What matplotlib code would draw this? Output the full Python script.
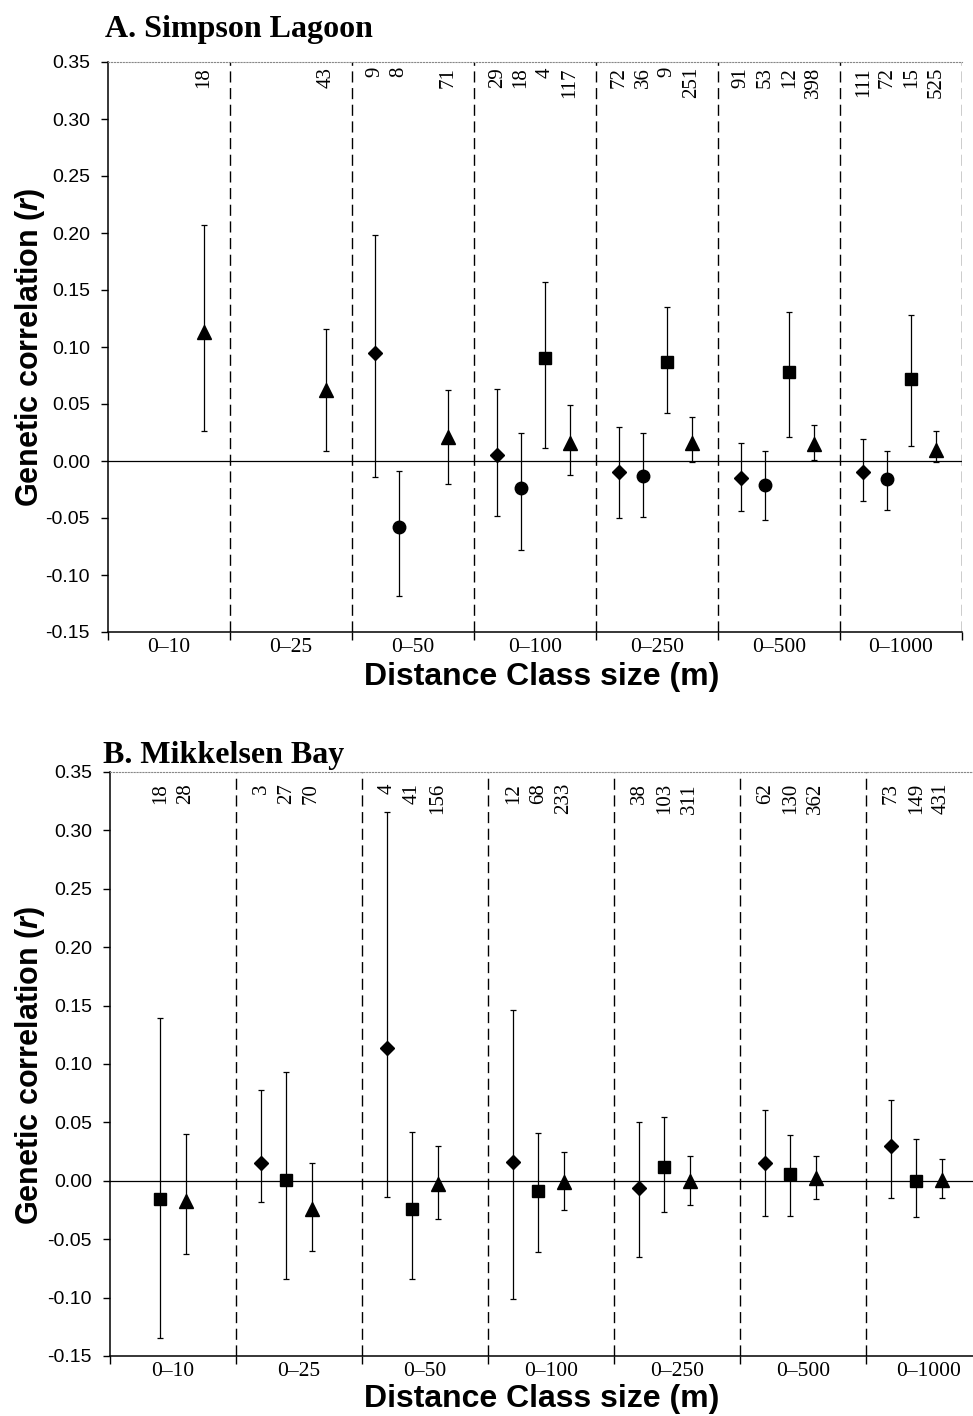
import numpy as np
import matplotlib.pyplot as plt
import matplotlib.transforms as mtransforms
from matplotlib.ticker import FormatStrFormatter

plt.rcParams['axes.unicode_minus'] = False
plt.rcParams['mathtext.fontset'] = 'custom'
plt.rcParams['mathtext.it'] = 'Liberation Sans:italic:bold'
plt.rcParams['mathtext.rm'] = 'Liberation Sans:bold'

nan = np.nan
classes = ['0\u201310', '0\u201325', '0\u201350', '0\u2013100', '0\u2013250', '0\u2013500', '0\u20131000']

# --- A. Simpson Lagoon (diamond, circle, square, triangle) ---
a_dia_mean = [nan, nan, 0.095, 0.005, -0.010, -0.015, -0.010]
a_dia_lo = [nan, nan, -0.014, -0.048, -0.050, -0.044, -0.035]
a_dia_hi = [nan, nan, 0.198, 0.063, 0.030, 0.016, 0.019]
a_cir_mean = [nan, nan, -0.058, -0.024, -0.013, -0.021, -0.016]
a_cir_lo = [nan, nan, -0.118, -0.078, -0.049, -0.052, -0.043]
a_cir_hi = [nan, nan, -0.009, 0.025, 0.025, 0.009, 0.009]
a_sq_mean = [nan, nan, nan, 0.090, 0.087, 0.078, 0.072]
a_sq_lo = [nan, nan, nan, 0.011, 0.042, 0.021, 0.013]
a_sq_hi = [nan, nan, nan, 0.157, 0.135, 0.131, 0.128]
a_tri_mean = [0.113, 0.062, 0.021, 0.016, 0.016, 0.015, 0.010]
a_tri_lo = [0.026, 0.009, -0.020, -0.012, -0.001, 0.001, -0.001]
a_tri_hi = [0.207, 0.116, 0.062, 0.049, 0.039, 0.032, 0.026]
a_n_dia = [None, None, 9, 29, 72, 91, 111]
a_n_cir = [None, None, 8, 18, 36, 53, 72]
a_n_sq = [None, None, None, 4, 9, 12, 15]
a_n_tri = [18, 43, 71, 117, 251, 398, 525]

# --- B. Mikkelsen Bay (diamond, square, triangle) ---
b_dia_mean = [nan, 0.015, 0.114, 0.016, -0.006, 0.015, 0.030]
b_dia_lo = [nan, -0.018, -0.014, -0.101, -0.065, -0.030, -0.015]
b_dia_hi = [nan, 0.078, 0.316, 0.146, 0.050, 0.061, 0.069]
b_sq_mean = [-0.016, 0.001, -0.024, -0.009, 0.012, 0.006, 0.000]
b_sq_lo = [-0.135, -0.084, -0.084, -0.061, -0.027, -0.030, -0.031]
b_sq_hi = [0.139, 0.093, 0.042, 0.041, 0.055, 0.039, 0.036]
b_tri_mean = [-0.017, -0.024, -0.003, -0.001, 0.000, 0.002, 0.001]
b_tri_lo = [-0.063, -0.060, -0.033, -0.025, -0.021, -0.016, -0.015]
b_tri_hi = [0.040, 0.015, 0.030, 0.025, 0.021, 0.021, 0.019]
b_n_dia = [None, 3, 4, 12, 38, 62, 73]
b_n_sq = [18, 27, 41, 68, 103, 130, 149]
b_n_tri = [28, 70, 156, 233, 311, 362, 431]

GW = 5  # width of one distance class on the x scale
SERIF = 'Liberation Serif'
SANS = 'Liberation Sans'


def draw_panel(ax, series, label_top):
    trans = mtransforms.blended_transform_factory(ax.transData, ax.transAxes)
    for slot, marker, ms, mean, lo, hi, counts in series:
        mean = np.array(mean)
        lo = np.array(lo)
        hi = np.array(hi)
        x = np.arange(len(classes)) * GW + slot
        ok = ~np.isnan(mean)
        ax.errorbar(x[ok], mean[ok], yerr=[mean[ok] - lo[ok], hi[ok] - mean[ok]],
                    fmt=marker, ms=ms, color='black', ecolor='black',
                    elinewidth=0.9, capsize=2, capthick=0.9, zorder=3)
        for xi, n in zip(x, counts):
            if n is not None:
                ax.text(xi, label_top, str(n), rotation=90, ha='center', va='top',
                        fontsize=15, family=SERIF, transform=trans)

    for k in range(1, len(classes) + 1):
        ax.axvline(k * GW, color='black', lw=1.0, ls=(0, (8, 4)), zorder=1)
    ax.axhline(0, color='black', lw=0.9, zorder=2)

    ax.set_xlim(0, len(classes) * GW)
    ax.set_ylim(-0.15, 0.35)
    ax.set_yticks(np.arange(-0.15, 0.351, 0.05))
    ax.yaxis.set_major_formatter(FormatStrFormatter('%.2f'))
    ax.set_xticks(np.arange(len(classes) + 1) * GW)
    ax.set_xticklabels([])
    ax.set_xticks(np.arange(len(classes)) * GW + GW / 2, minor=True)
    ax.set_xticklabels(classes, minor=True, family=SERIF, fontsize=15.5)
    ax.tick_params(axis='x', which='major', direction='out', length=6, width=1)
    ax.tick_params(axis='x', which='minor', length=0, pad=4)
    ax.tick_params(axis='y', direction='out', length=5, width=1, labelsize=14, pad=8)
    for lab in ax.get_yticklabels():
        lab.set_family(SANS)
    ax.spines['right'].set_visible(False)
    ax.spines['top'].set_linestyle(':')
    ax.spines['top'].set_color('#888888')
    ax.spines['top'].set_linewidth(0.8)
    ax.spines['left'].set_linewidth(1.1)
    ax.spines['bottom'].set_linewidth(1.1)


W, H = 973, 1416
fig = plt.figure(figsize=(W / 100, H / 100), dpi=100)

axA = fig.add_axes([108 / W, 1 - 632 / H, 854 / W, 570 / H])
seriesA = [
    (0.95, 'D', 7.5, a_dia_mean, a_dia_lo, a_dia_hi, a_n_dia),
    (1.93, 'o', 9, a_cir_mean, a_cir_lo, a_cir_hi, a_n_cir),
    (2.92, 's', 8.5, a_sq_mean, a_sq_lo, a_sq_hi, a_n_sq),
    (3.93, '^', 9.5, a_tri_mean, a_tri_lo, a_tri_hi, a_n_tri),
]
draw_panel(axA, seriesA, 1 - 5 / 570)

axB = fig.add_axes([110 / W, 1 - 1356 / H, 882 / W, 584 / H])
seriesB = [
    (1.0, 'D', 7.5, b_dia_mean, b_dia_lo, b_dia_hi, b_n_dia),
    (2.0, 's', 8.5, b_sq_mean, b_sq_lo, b_sq_hi, b_n_sq),
    (3.0, '^', 9.5, b_tri_mean, b_tri_lo, b_tri_hi, b_n_tri),
]
draw_panel(axB, seriesB, 1 - 11 / 584)

fig.text(105 / W, 1 - 37 / H, 'A. Simpson Lagoon', family=SERIF, weight='bold',
         fontsize=23, ha='left', va='baseline')
fig.text(103 / W, 1 - 763 / H, 'B. Mikkelsen Bay', family=SERIF, weight='bold',
         fontsize=23, ha='left', va='baseline')

ylab = 'Genetic correlation ($\\mathit{r}$)'
fig.text(30 / W, 1 - 347 / H, ylab, rotation=90, ha='center', va='center',
         family=SANS, weight='bold', fontsize=22)
fig.text(30 / W, 1 - 1065 / H, ylab, rotation=90, ha='center', va='center',
         family=SANS, weight='bold', fontsize=22)
fig.text(542 / W, 1 - 677 / H, 'Distance Class size (m)', ha='center', va='center',
         family=SANS, weight='bold', fontsize=23)
fig.text(542 / W, 1 - 1399 / H, 'Distance Class size (m)', ha='center', va='center',
         family=SANS, weight='bold', fontsize=23)

fig.savefig('out.png', dpi=100)
